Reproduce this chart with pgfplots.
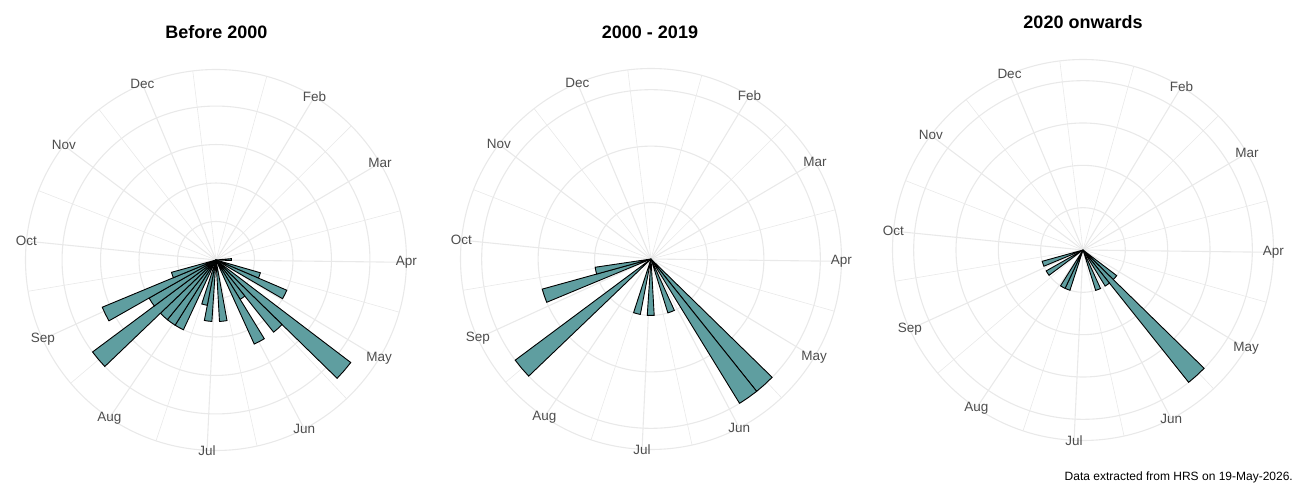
\documentclass[border=0pt]{standalone}
\usepackage{pgfplots}
\pgfplotsset{compat=1.18}
\usepgfplotslibrary{polar}
\usepackage{fontspec}
\setmainfont{Liberation Sans}
\definecolor{cadet}{RGB}{95,158,160}
\definecolor{gridc}{RGB}{233,233,233}
\definecolor{labc}{RGB}{77,77,77}

\pgfplotsset{
  roseax/.style={
    scale only axis, width=381pt, height=381pt,
    anchor=center,
    xmin=0, xmax=360, ymin=0,
    xtick={58.9,30.6,359.3,328.9,297.6,267.3,236.0,204.6,174.3,143.0,112.7},
    minor xtick={74.55,44.75,14.95,344.1,313.25,282.45,251.65,220.3,189.45,158.65,127.85,97.0},
    xticklabel={\relax}, yticklabel={\relax},
    major tick length=0pt, minor tick length=0pt,
    xmajorgrids, xminorgrids, ymajorgrids,
    major grid style={line width=1.1pt, draw=gridc},
    minor grid style={line width=0.6pt, draw=gridc},
    axis line style={line width=1.1pt, draw=gridc},
    y axis line style={draw=none},
    clip=false,
  },
  barst/.style={fill=cadet, draw=black, line width=0.9pt, line join=miter},
}
\tikzset{lab/.style={font=\fontsize{13.5}{16}\selectfont, text=labc, inner sep=0pt, anchor=center}}

% one weekly bin: #1 = bin number (bins of 7.07 degrees, clockwise from top), #2 = count
\newcommand{\wbar}[2]{%
  \pgfmathsetmacro{\wa}{90-7.07*#1}%
  \pgfmathsetmacro{\wm}{90-7.07*(#1+0.5)}%
  \pgfmathsetmacro{\wb}{90-7.07*(#1+1)}%
  \edef\wcmd{\noexpand\addplot[barst] coordinates {(0,0) (\wa,#2) (\wm,#2) (\wb,#2)} -- cycle;}%
  \wcmd}

\newcommand{\monthlabels}[1]{%
  \node[lab] at (axis cs:58.9,#1) {Feb};
  \node[lab] at (axis cs:30.6,#1) {Mar};
  \node[lab] at (axis cs:-0.7,#1) {Apr};
  \node[lab] at (axis cs:-31.1,#1) {May};
  \node[lab] at (axis cs:-62.4,#1) {Jun};
  \node[lab] at (axis cs:-92.7,#1) {Jul};
  \node[lab] at (axis cs:-124.0,#1) {Aug};
  \node[lab] at (axis cs:-155.4,#1) {Sep};
  \node[lab] at (axis cs:174.3,#1) {Oct};
  \node[lab] at (axis cs:143.0,#1) {Nov};
  \node[lab] at (axis cs:112.7,#1) {Dec};
}

\begin{document}
\begin{tikzpicture}
\useasboundingbox (0pt,0pt) rectangle (1300pt,500pt);

% ---------- Before 2000 ----------
\begin{polaraxis}[roseax, at={(216pt,240pt)}, ymax=12.375, ytick={2.5,5,7.5,10}]
  \wbar{12}{1} \wbar{15}{3} \wbar{16}{5} \wbar{18}{11} \wbar{19}{6}
  \wbar{20}{3} \wbar{21}{6} \wbar{24}{4} \wbar{26}{4} \wbar{27}{3}
  \wbar{29}{5} \wbar{30}{5} \wbar{31}{5} \wbar{32}{10} \wbar{33}{5}
  \wbar{34}{8} \wbar{35}{3}
  \monthlabels{12.375}
\end{polaraxis}

% ---------- 2000 - 2019 ----------
\begin{polaraxis}[roseax, at={(651pt,241pt)}, ymax=3.375, ytick={1,2,3}]
  \wbar{19}{3} \wbar{20}{3} \wbar{22}{1} \wbar{25}{1} \wbar{27}{1}
  \wbar{32}{3} \wbar{35}{2} \wbar{36}{1}
  \monthlabels{3.375}
\end{polaraxis}

% ---------- 2020 onwards ----------
\begin{polaraxis}[roseax, at={(1083pt,250pt)}, ymax=4.5, ytick={1,2,3,4}]
  \wbar{18}{1} \wbar{19}{4} \wbar{20}{1} \wbar{22}{1} \wbar{28}{1}
  \wbar{29}{1} \wbar{33}{1} \wbar{35}{1}
  \monthlabels{4.5}
\end{polaraxis}

\node[font=\bfseries\fontsize{18}{22}\selectfont] at (216.5pt,468pt) {Before 2000};
\node[font=\bfseries\fontsize{18}{22}\selectfont] at (650pt,468pt) {2000 - 2019};
\node[font=\bfseries\fontsize{18}{22}\selectfont] at (1083pt,478pt) {2020 onwards};
\node[font=\fontsize{12}{14}\selectfont, anchor=base east, inner sep=0pt] at (1293pt,19.7pt) {Data extracted from HRS on 19-May-2026.};
\end{tikzpicture}
\end{document}
